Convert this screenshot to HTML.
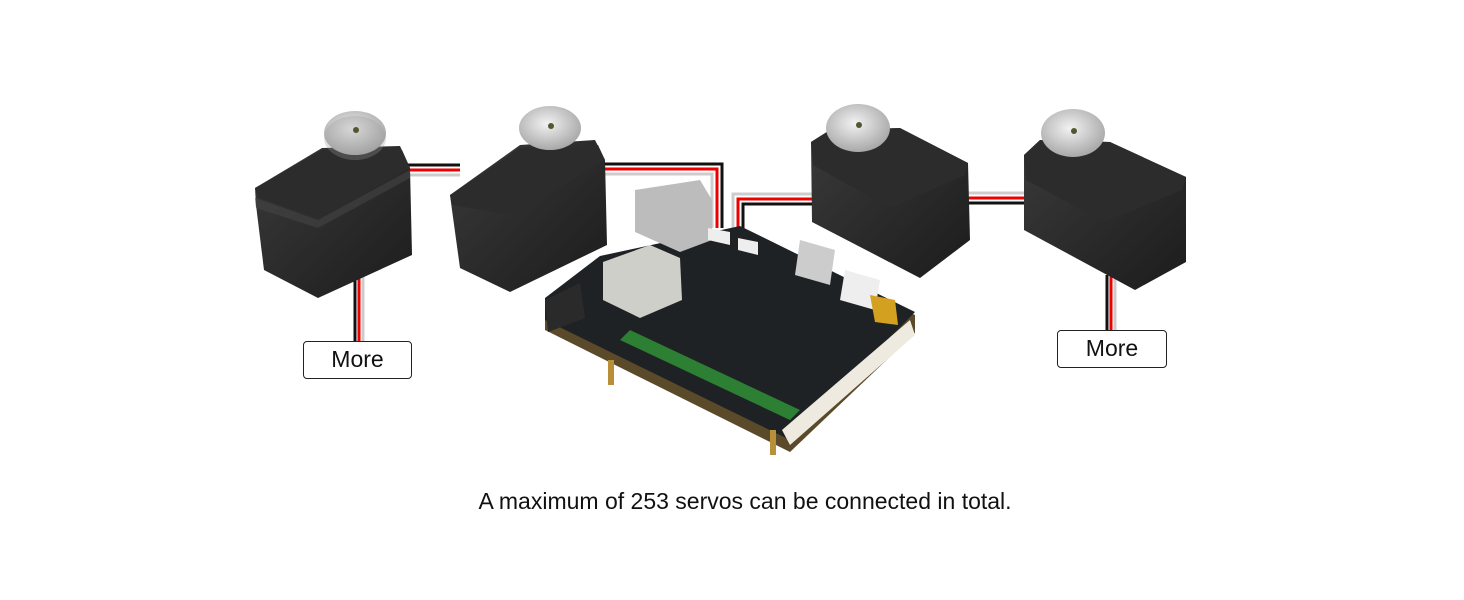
<!DOCTYPE html>
<html><head><meta charset="utf-8"><style>
html,body{margin:0;padding:0;background:#fff;}
body{width:1464px;height:600px;overflow:hidden;position:relative;font-family:"Liberation Sans",sans-serif;}
.more{position:absolute;border:1.5px solid #222;border-radius:4px;background:#fff;font-size:23px;text-align:center;line-height:34px;color:#111;box-sizing:border-box;}
.cap{position:absolute;left:0;width:1490px;top:488px;text-align:center;font-size:23px;color:#111;}
</style></head><body>
<svg width="1464" height="600" style="position:absolute;left:0;top:0">
<defs>
<radialGradient id="horn" cx="45%" cy="40%" r="60%"><stop offset="0" stop-color="#f2f2f2"/><stop offset="1" stop-color="#a8a8a8"/></radialGradient>
<linearGradient id="body" x1="0" y1="0" x2="1" y2="1"><stop offset="0" stop-color="#3a3a3a"/><stop offset="1" stop-color="#1c1c1c"/></linearGradient>
</defs>
<!-- wires -->
<g fill="none" stroke-width="3">
<polyline points="355,270 355,342" stroke="#111"/><polyline points="359,270 359,342" stroke="#e00"/><polyline points="363,270 363,342" stroke="#ccc"/>
<polyline points="400,165 460,165" stroke="#111"/><polyline points="400,170 460,170" stroke="#e00"/><polyline points="400,175 460,175" stroke="#ccc"/>
<polyline points="600,164 722,164 722,228" stroke="#111"/><polyline points="600,169 717,169 717,228" stroke="#e00"/><polyline points="600,174 712,174 712,228" stroke="#ccc"/>
<polyline points="815,194 733,194 733,238" stroke="#ccc"/><polyline points="815,199 738,199 738,238" stroke="#e00"/><polyline points="815,204 743,204 743,238" stroke="#111"/>
<polyline points="965,193 1030,193" stroke="#ccc"/><polyline points="965,198 1030,198" stroke="#e00"/><polyline points="965,203 1030,203" stroke="#111"/>
<polyline points="1107,275 1107,332" stroke="#111"/><polyline points="1111,275 1111,332" stroke="#e00"/><polyline points="1115,275 1115,332" stroke="#ccc"/>
</g>
<!-- servo1 -->
<polygon points="255,188 322,148 400,146 410,168 412,255 318,298 264,270 256,205" fill="url(#body)"/>
<polygon points="255,188 322,150 402,150 410,168 318,218 258,198" fill="#2c2c2c"/>
<polygon points="255,198 318,220 410,170 410,178 318,228 256,208" fill="#444" opacity=".6"/>
<ellipse cx="355" cy="133" rx="31" ry="22" fill="url(#horn)"/><ellipse cx="355" cy="138" rx="31" ry="22" fill="#999" opacity=".3"/>
<circle cx="356" cy="130" r="3" fill="#553"/>
<!-- servo2 -->
<polygon points="450,195 520,145 595,140 605,160 607,245 510,292 460,268 452,210" fill="url(#body)"/>
<polygon points="450,195 520,148 598,145 605,160 512,215 452,205" fill="#2c2c2c"/>
<ellipse cx="550" cy="128" rx="31" ry="22" fill="url(#horn)"/><circle cx="551" cy="126" r="3" fill="#553"/>
<!-- servo3 -->
<polygon points="811,142 830,130 900,128 968,163 970,240 920,278 812,222" fill="url(#body)"/>
<polygon points="811,142 830,130 900,128 968,163 965,175 890,208 813,165" fill="#2c2c2c"/>
<ellipse cx="858" cy="128" rx="32" ry="24" fill="url(#horn)"/><circle cx="859" cy="125" r="3" fill="#553"/>
<!-- servo4 -->
<polygon points="1024,155 1040,140 1110,142 1186,177 1186,262 1135,290 1024,230" fill="url(#body)"/>
<polygon points="1024,155 1040,140 1110,142 1186,177 1182,190 1105,222 1026,180" fill="#2c2c2c"/>
<ellipse cx="1073" cy="133" rx="32" ry="24" fill="url(#horn)"/><circle cx="1074" cy="131" r="3" fill="#553"/>
<!-- board -->
<polygon points="545,300 600,258 740,228 915,315 915,333 790,452 545,330" fill="#5a4a2a"/>
<polygon points="545,298 600,256 740,226 915,312 790,440 545,320" fill="#1f2225"/>
<rect x="608" y="360" width="6" height="25" fill="#b8903a"/><rect x="770" y="430" width="6" height="25" fill="#b8903a"/>
<polygon points="603,262 650,245 680,258 682,300 640,318 603,300" fill="#cfcfca"/>
<polygon points="635,190 700,180 712,200 712,240 680,252 635,232" fill="#bcbcbc"/>
<polygon points="545,300 580,283 585,318 548,332" fill="#2a2a2a"/>
<polygon points="620,340 790,420 800,410 630,330" fill="#2d8a35" opacity=".9"/>
<polygon points="782,430 910,320 915,335 790,445" fill="#eeeae0"/>
<polygon points="800,240 835,250 830,285 795,275" fill="#ccc"/>
<polygon points="845,270 880,280 875,310 840,300" fill="#eee"/>
<polygon points="708,228 730,232 730,245 708,240" fill="#eee"/>
<polygon points="738,238 758,242 758,255 738,250" fill="#eee"/>
<polygon points="870,295 895,300 898,325 875,322" fill="#d4a020"/>
</svg>
<div class="more" style="left:303px;top:341px;width:109px;height:38px;">More</div>
<div class="more" style="left:1057px;top:330px;width:110px;height:38px;">More</div>
<div class="cap">A maximum of 253 servos can be connected in total.</div>
</body></html>
